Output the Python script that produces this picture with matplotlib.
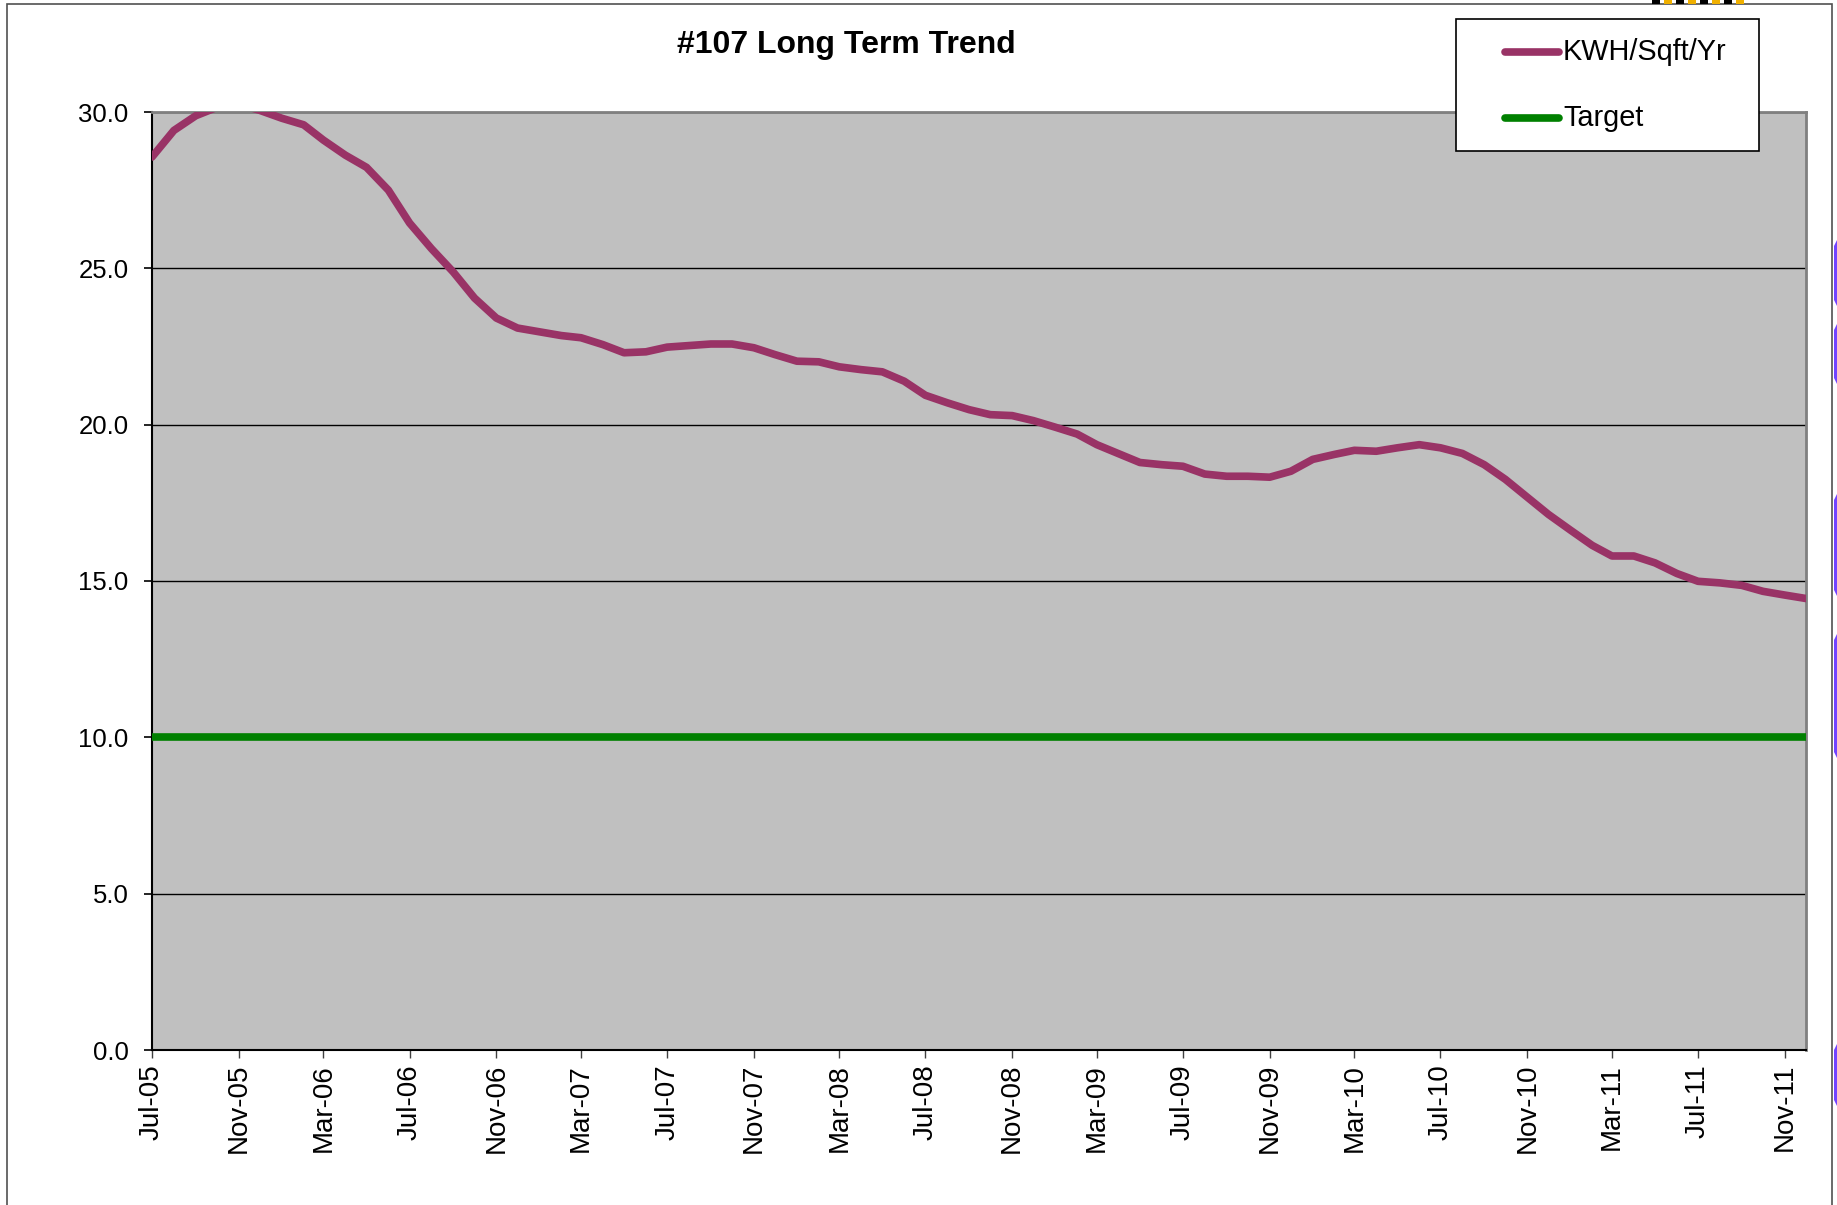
import matplotlib
matplotlib.use("Agg")
import matplotlib.pyplot as plt
import matplotlib.dates as mdates
from matplotlib.lines import Line2D
from matplotlib.patches import Rectangle, Polygon
import pandas as pd

plt.rcParams["font.family"] = ["Liberation Sans", "DejaVu Sans"]

# monthly series, Jul-05 .. Dec-11
months = pd.date_range("2005-07-01", periods=78, freq="MS")
kwh = [28.56, 29.41, 29.88, 30.15, 30.25, 30.05, 29.80, 29.59, 29.10, 28.62,
       28.23, 27.50, 26.45, 25.63, 24.88, 24.05, 23.41, 23.09, 22.97, 22.85,
       22.78, 22.56, 22.30, 22.33, 22.48, 22.53, 22.58, 22.58, 22.46, 22.24,
       22.03, 22.01, 21.85, 21.76, 21.69, 21.39, 20.94, 20.70, 20.48, 20.32,
       20.29, 20.13, 19.92, 19.70, 19.36, 19.07, 18.79, 18.72, 18.67, 18.42,
       18.35, 18.35, 18.32, 18.51, 18.89, 19.05, 19.18, 19.15, 19.26, 19.36,
       19.26, 19.08, 18.72, 18.25, 17.68, 17.13, 16.63, 16.14, 15.80, 15.80,
       15.58, 15.24, 14.99, 14.94, 14.86, 14.67, 14.55, 14.44]
target = [10.0] * len(months)
y_ticks = [0, 5, 10, 15, 20, 25, 30]

PLUM = "#993366"
GREEN = "#008000"
W, H = 1837, 1205

fig = plt.figure(figsize=(W / 100, H / 100), dpi=100)
ax = fig.add_axes([152 / W, 1 - 1050 / H, (1806 - 152) / W, (1050 - 112) / H])
ax.set_facecolor("#C0C0C0")

ax.plot(months, kwh, color=PLUM, lw=5.5, solid_capstyle="round", zorder=3)
ax.plot(months, target, color=GREEN, lw=5.5, solid_capstyle="round", zorder=3)

ax.set_xlim(months[0], months[-1])
ax.set_ylim(0, 30)
ax.set_yticks(y_ticks)
ax.yaxis.set_major_formatter(matplotlib.ticker.FormatStrFormatter("%.1f"))
ax.xaxis.set_major_locator(mdates.MonthLocator(bymonth=[3, 7, 11]))
ax.xaxis.set_major_formatter(mdates.DateFormatter("%b-%y"))
ax.tick_params(axis="y", direction="out", length=6, width=1.2, labelsize=18.5, pad=11)
ax.tick_params(axis="x", direction="out", length=6, width=1.0, color="#404040",
               labelsize=20, pad=4, labelrotation=90)

ax.grid(axis="y", color="black", lw=1.0)
ax.set_axisbelow(True)
for s in ("left", "bottom"):
    ax.spines[s].set_color("black")
    ax.spines[s].set_linewidth(1.5)
for s in ("top", "right"):
    ax.spines[s].set_color("#808080")
    ax.spines[s].set_linewidth(2.0)

fig.text(846 / W, 1 - 45 / H, "#107 Long Term Trend", ha="center", va="center",
         fontsize=23, fontweight="bold")

# legend box drawn in figure pixels
box = Rectangle((1456 / W, 1 - 151 / H), (1759 - 1456) / W, (151 - 19) / H,
                transform=fig.transFigure, facecolor="white", edgecolor="black",
                lw=1.2, zorder=5)
fig.add_artist(box)
for yy, col, lab in [(52, PLUM, "KWH/Sqft/Yr"), (118, GREEN, "Target")]:
    fig.add_artist(Line2D([1505 / W, 1559 / W], [1 - yy / H, 1 - yy / H],
                          transform=fig.transFigure, color=col, lw=5.5,
                          solid_capstyle="round", zorder=6))
    fig.text(1563 / W, 1 - yy / H, lab, ha="left", va="center", fontsize=20.8, zorder=6)

# chart area border
fig.add_artist(Rectangle((7 / W, -0.01), (1832 - 7) / W, 1.01 - 4 / H,
                         transform=fig.transFigure, fill=False,
                         edgecolor="#505050", lw=1.2))

# slide decorations peeking in at the edges
for y0, y1 in [(246, 300), (330, 378), (500, 590), (640, 752), (1050, 1100)]:
    fig.add_artist(Polygon([(1834 / W, 1 - y0 / H), (1837 / W, 1 - (y0 - 6) / H),
                            (1837 / W, 1 - (y1 + 6) / H), (1834 / W, 1 - y1 / H)],
                           transform=fig.transFigure, color="#7044FF", lw=0))
for i, x0 in enumerate(range(1652, 1745, 12)):
    fig.add_artist(Rectangle((x0 / W, 1 - 4 / H), 8 / W, 4 / H,
                             transform=fig.transFigure,
                             color="#F0B000" if i % 2 else "black", lw=0))

fig.savefig("out.png", dpi=100)
